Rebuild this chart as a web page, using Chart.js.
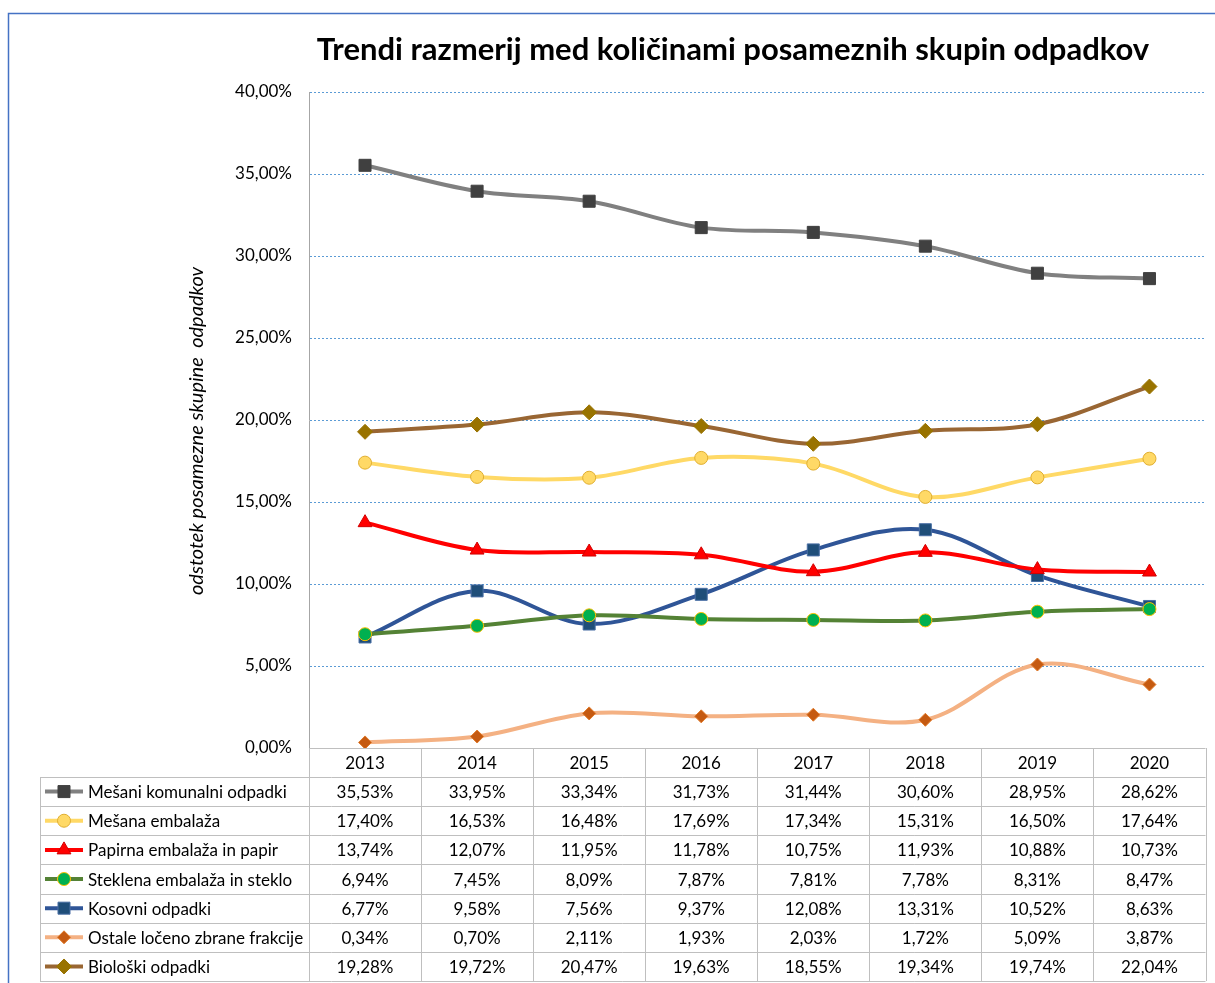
<!DOCTYPE html>
<html>
<head>
<meta charset="utf-8">
<title>Trendi razmerij med količinami posameznih skupin odpadkov</title>
<script src="https://cdn.jsdelivr.net/npm/chart.js@4"></script>
<style>
  body { margin: 0; background: #fff; }
  #chart { display: block; }
</style>
</head>
<body>
<canvas id="chart" width="1215" height="983"></canvas>
<script>
// Categories and series values (percent)
const years = ['2013', '2014', '2015', '2016', '2017', '2018', '2019', '2020'];
const seriesNames = [
    'Mešani komunalni odpadki',
    'Mešana embalaža',
    'Papirna embalaža in papir',
    'Steklena embalaža in steklo',
    'Kosovni odpadki',
    'Ostale ločeno zbrane frakcije',
    'Biološki odpadki'
];
const mesaniKomunalni = [35.53, 33.95, 33.34, 31.73, 31.44, 30.60, 28.95, 28.62];
const mesanaEmbalaza = [17.40, 16.53, 16.48, 17.69, 17.34, 15.31, 16.50, 17.64];
const papirna = [13.74, 12.07, 11.95, 11.78, 10.75, 11.93, 10.88, 10.73];
const steklena = [6.94, 7.45, 8.09, 7.87, 7.81, 7.78, 8.31, 8.47];
const kosovni = [6.77, 9.58, 7.56, 9.37, 12.08, 13.31, 10.52, 8.63];
const ostale = [0.34, 0.70, 2.11, 1.93, 2.03, 1.72, 5.09, 3.87];
const bioloski = [19.28, 19.72, 20.47, 19.63, 18.55, 19.34, 19.74, 22.04];
const yTicks = [0, 5, 10, 15, 20, 25, 30, 35, 40];

const fmt = v => v.toFixed(2).replace('.', ',') + '%';
const FONT = 'Lato, "Open Sans", sans-serif';

function series(label, data, line, fill, border, style, radius) {
    return {
        label: label,
        data: data,
        borderColor: line,
        backgroundColor: line,
        borderWidth: 4,
        pointStyle: style,
        pointRadius: radius,
        pointHoverRadius: radius,
        pointBackgroundColor: fill,
        pointBorderColor: border,
        pointBorderWidth: 1,
        tension: 0.35,
        fill: false,
    };
}

const datasets = [
    series(seriesNames[0], mesaniKomunalni, '#808080', '#404040', '#404040', 'rect', 8.5),
    series(seriesNames[1], mesanaEmbalaza, '#FFD966', '#FFD966', '#E0AE30', 'circle', 6.5),
    series(seriesNames[2], papirna, '#FF0000', '#FF0000', '#D00000', 'triangle', 8),
    series(seriesNames[3], steklena, '#548235', '#00B050', '#FFC000', 'circle', 6.5),
    series(seriesNames[4], kosovni, '#2F5597', '#1F4E79', '#4A6FA5', 'rect', 8.5),
    series(seriesNames[5], ostale, '#F4B183', '#C55A11', '#E07A2A', 'rectRot', 6.5),
    series(seriesNames[6], bioloski, '#996633', '#997300', '#997300', 'rectRot', 7.5),
];

// Data table under the plot + outer frame + titles
const tablePlugin = {
    id: 'dataTable',
    afterDraw(chart) {
        const ctx = chart.ctx;
        const x = chart.scales.x;
        const area = chart.chartArea;
        const tableLeft = 40;
        const headTop = area.bottom;
        const rowsTop = 777;
        const rowH = 29.15;
        const bottom = rowsTop + rowH * datasets.length;
        const cellW = (area.right - area.left) / years.length;

        ctx.save();
        // outer frame (top and left edges visible)
        ctx.strokeStyle = '#4472C4';
        ctx.lineWidth = 1.5;
        ctx.beginPath();
        ctx.moveTo(8.5, 983);
        ctx.lineTo(8.5, 13.5);
        ctx.lineTo(1215, 13.5);
        ctx.stroke();

        // title
        ctx.fillStyle = '#000';
        ctx.font = 'bold 31px ' + FONT;
        ctx.textAlign = 'center';
        ctx.textBaseline = 'middle';
        ctx.fillText('Trendi razmerij med količinami posameznih skupin odpadkov', 733, 50);

        // y axis title
        ctx.save();
        ctx.translate(197, 431);
        ctx.rotate(-Math.PI / 2);
        ctx.font = 'italic 20px ' + FONT;
        ctx.fillText('odstotek posamezne skupine  odpadkov', 0, 0);
        ctx.restore();

        // table grid
        ctx.strokeStyle = '#BFBFBF';
        ctx.lineWidth = 1;
        ctx.beginPath();
        ctx.moveTo(area.left, Math.round(headTop) + 0.5);
        ctx.lineTo(area.right, Math.round(headTop) + 0.5);
        for (let r = 0; r <= datasets.length; r++) {
            const yy = Math.round(rowsTop + r * rowH) + 0.5;
            ctx.moveTo(tableLeft, yy);
            ctx.lineTo(area.right, yy);
        }
        ctx.moveTo(tableLeft + 0.5, rowsTop);
        ctx.lineTo(tableLeft + 0.5, bottom);
        for (let c = 0; c <= years.length; c++) {
            const xx = Math.round(area.left + c * cellW) + 0.5;
            ctx.moveTo(xx, headTop);
            ctx.lineTo(xx, bottom);
        }
        ctx.stroke();

        // rows
        ctx.font = '17px ' + FONT;
        datasets.forEach((ds, r) => {
            const cy = rowsTop + r * rowH + rowH / 2;
            // legend key
            ctx.strokeStyle = ds.borderColor;
            ctx.lineWidth = 4;
            ctx.beginPath();
            ctx.moveTo(45, cy);
            ctx.lineTo(83, cy);
            ctx.stroke();
            ctx.fillStyle = ds.pointBackgroundColor;
            ctx.strokeStyle = ds.pointBorderColor;
            ctx.lineWidth = 1;
            Chart.helpers.drawPoint(ctx, {
                pointStyle: ds.pointStyle,
                radius: ds.pointRadius,
                borderWidth: 1,
                rotation: 0
            }, 64, cy);

            ctx.fillStyle = '#000';
            ctx.textAlign = 'left';
            ctx.fillText(ds.label, 88, cy + 1);
            ctx.textAlign = 'center';
            ds.data.forEach((v, i) => {
                ctx.fillText(fmt(v), x.getPixelForValue(i), cy + 1);
            });
        });
        ctx.restore();
    }
};

const config = {
    type: 'line',
    data: { labels: years, datasets: datasets },
    options: {
        responsive: false,
        animation: false,
        layout: { padding: { left: 180, right: 8, top: 92, bottom: 0 } },
        plugins: {
            legend: { display: false },
            title: { display: false },
            tooltip: { enabled: false },
        },
        scales: {
            x: {
                offset: true,
                grid: { display: false, drawTicks: false },
                border: { display: false },
                ticks: { color: '#000', font: { family: FONT, size: 17 }, padding: 5 },
                afterFit(scale) { scale.height = 235; },
            },
            y: {
                min: 0,
                max: 40,
                afterBuildTicks(scale) { scale.ticks = yTicks.map(v => ({ value: v })); },
                ticks: {
                    color: '#000',
                    padding: 17,
                    font: { family: FONT, size: 17 },
                    callback: v => fmt(v),
                },
                grid: {
                    color: '#5B9BD5',
                    lineWidth: 1,
                    drawTicks: false,
                },
                border: { display: true, color: '#A6A6A6', width: 1, dash: [2, 2] },
                title: { display: false },
                afterFit(scale) { scale.width = 129; },
            },
        },
    },
    plugins: [tablePlugin],
};

const chart = new Chart(document.getElementById('chart').getContext('2d'), config);
</script>
</body>
</html>
